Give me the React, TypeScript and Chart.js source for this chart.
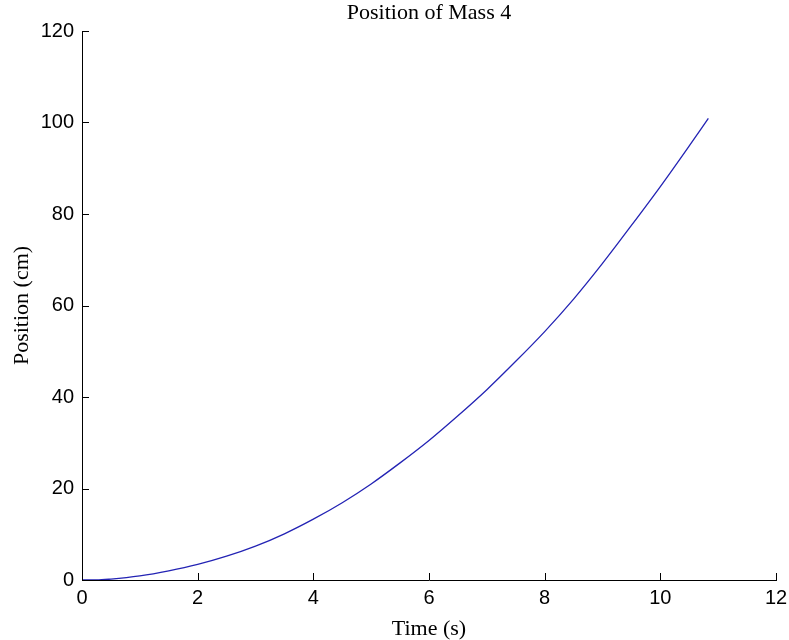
import React, { useEffect, useRef } from "react";
import { Chart, registerables } from "chart.js";

Chart.register(...registerables);

const times = [0, 0.25, 0.5, 1, 1.5, 2, 2.5, 3, 3.5, 4, 4.5, 5, 5.5, 6, 6.5, 7, 7.5, 8, 8.5, 9, 9.5, 10, 10.5, 10.83];
const positions = [0, 0, 0.2, 0.9, 2.0, 3.4, 5.2, 7.4, 10.1, 13.3, 16.9, 21.0, 25.6, 30.5, 35.9, 41.6, 47.8, 54.3, 61.4, 69.2, 77.5, 86.0, 94.9, 100.9];

const xTicks = [0, 2, 4, 6, 8, 10, 12];
const yTicks = [0, 20, 40, 60, 80, 100, 120];

const chartTitle = "Position of Mass 4";
const xTitle = "Time (s)";
const yTitle = "Position (cm)";

const inwardTicks = {
  id: "inwardTicks",
  afterDraw(chart: any) {
    const { ctx, chartArea, scales } = chart;
    const len = 7;
    ctx.save();
    ctx.strokeStyle = "#000";
    ctx.lineWidth = 1;
    ctx.beginPath();
    for (const v of xTicks) {
      const px = Math.round(scales.x.getPixelForValue(v)) + 0.5;
      ctx.moveTo(px, chartArea.bottom);
      ctx.lineTo(px, chartArea.bottom - len);
    }
    for (const v of yTicks) {
      const py = Math.round(scales.y.getPixelForValue(v)) + 0.5;
      ctx.moveTo(chartArea.left, py);
      ctx.lineTo(chartArea.left + len, py);
    }
    ctx.stroke();
    ctx.restore();
  },
};

export default function App() {
  const canvasRef = useRef<HTMLCanvasElement | null>(null);

  useEffect(() => {
    document.body.style.margin = "0";
    const canvas = canvasRef.current;
    if (!canvas) return;
    const tickFont = { family: "'Liberation Sans', Arial, sans-serif", size: 20 };
    const serifFont = { family: "'Liberation Serif', 'Times New Roman', serif", size: 22, weight: "normal" as const };
    const chart = new Chart(canvas, {
      type: "line",
      data: {
        datasets: [
          {
            data: times.map((t, i) => ({ x: t, y: positions[i] })),
            borderColor: "rgb(35,35,180)",
            borderWidth: 1.3,
            pointRadius: 0,
            cubicInterpolationMode: "monotone",
            fill: false,
          },
        ],
      },
      options: {
        responsive: false,
        animation: false,
        layout: { padding: 0 },
        plugins: {
          legend: { display: false },
          tooltip: { enabled: false },
          title: {
            display: true,
            text: chartTitle,
            fullSize: false,
            color: "#000",
            font: serifFont,
            padding: { top: 0, bottom: 4.6 },
          },
        },
        scales: {
          x: {
            type: "linear",
            min: xTicks[0],
            max: xTicks[xTicks.length - 1],
            afterBuildTicks: (scale: any) => {
              scale.ticks = xTicks.map((v) => ({ value: v }));
            },
            afterFit: (scale: any) => {
              scale.height = 60;
              scale.paddingLeft = 0;
              scale.paddingRight = 13;
            },
            grid: {
              drawOnChartArea: false,
              drawTicks: false,
            },
            border: { display: true, color: "#000", width: 1 },
            ticks: {
              font: tickFont,
              color: "#000",
              padding: 6,
              maxRotation: 0,
              autoSkip: false,
            },
            title: {
              display: true,
              text: xTitle,
              color: "#000",
              font: { ...serifFont, lineHeight: 1 },
              padding: { top: 0, bottom: 0 },
            },
          },
          y: {
            type: "linear",
            min: yTicks[0],
            max: yTicks[yTicks.length - 1],
            afterBuildTicks: (scale: any) => {
              scale.ticks = yTicks.map((v) => ({ value: v }));
            },
            afterFit: (scale: any) => {
              scale.width = 82;
              scale.paddingTop = 0;
              scale.paddingBottom = 0;
            },
            grid: {
              drawOnChartArea: false,
              drawTicks: false,
            },
            border: { display: true, color: "#000", width: 1 },
            ticks: {
              font: tickFont,
              color: "#000",
              padding: 8,
              autoSkip: false,
            },
            title: {
              display: true,
              text: yTitle,
              color: "#000",
              font: { ...serifFont, lineHeight: 1 },
              padding: { top: 11, bottom: 0 },
            },
          },
        },
      },
      plugins: [inwardTicks],
    });
    return () => chart.destroy();
  }, []);

  return (
    <div style={{ width: 789, height: 640 }}>
      <canvas ref={canvasRef} width={789} height={640} style={{ display: "block" }} />
    </div>
  );
}
